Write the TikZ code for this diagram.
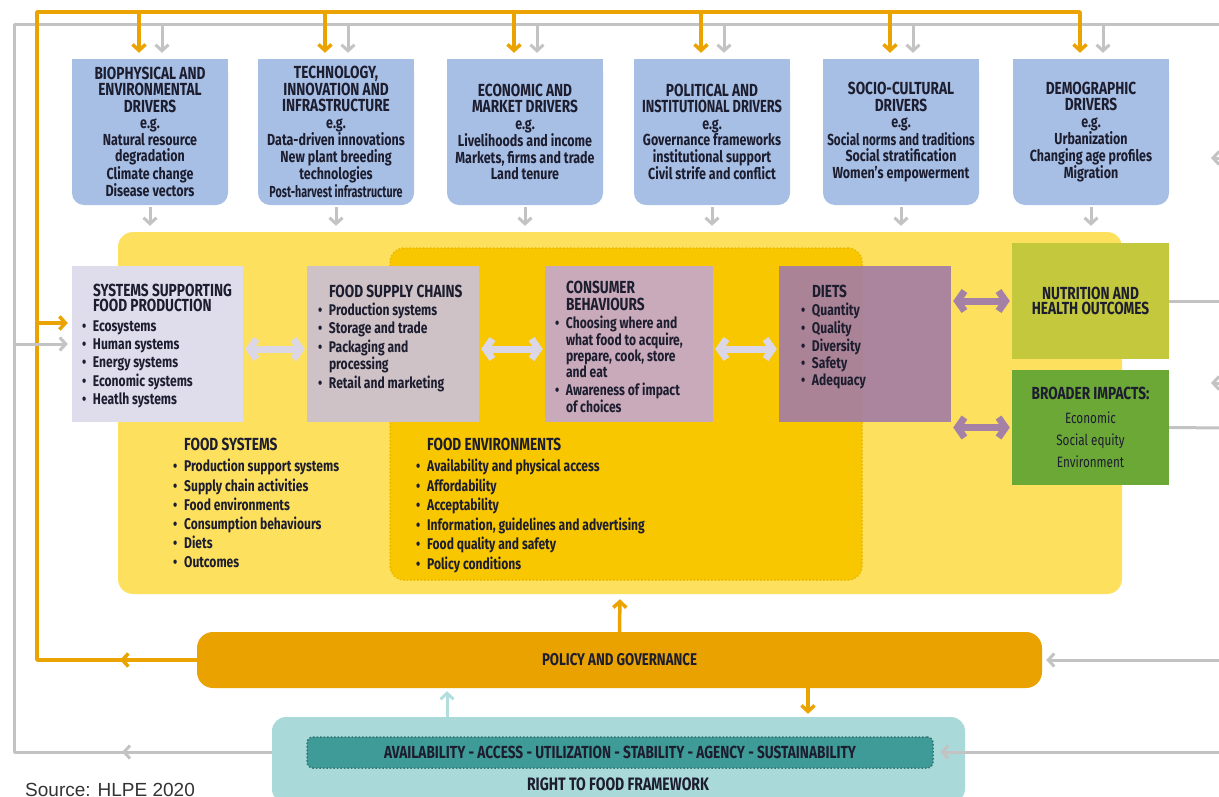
\documentclass[tikz,border=0pt]{standalone}
\usepackage{fontspec}
\setmainfont{Fira Sans}[FakeStretch=0.78]
\newfontfamily\srcfont{Liberation Sans}
\usepackage{color}
\usetikzlibrary{arrows.meta}

\definecolor{drvblue}{HTML}{A7BFE4}
\definecolor{yelbg}{HTML}{FDE15E}
\definecolor{yeldark}{HTML}{F9C700}
\definecolor{yeldot}{HTML}{EAB800}
\definecolor{ssfpcol}{HTML}{DFDDEB}
\definecolor{fsccol}{HTML}{CEC2C6}
\definecolor{cbcol}{HTML}{C9AABA}
\definecolor{dietcol}{HTML}{A47EA3}
\definecolor{nutcol}{HTML}{C4C83C}
\definecolor{impcol}{HTML}{6BA835}
\definecolor{polcol}{HTML}{E9A200}
\definecolor{orline}{HTML}{EAA300}
\definecolor{grline}{HTML}{C3C3C3}
\definecolor{tealbox}{HTML}{A9D9D9}
\definecolor{tealband}{HTML}{3F9B97}
\definecolor{tealarr}{HTML}{B4DEDE}
\definecolor{lavarr}{HTML}{DCD7E6}
\definecolor{purarr}{HTML}{A681A6}
\definecolor{txtdark}{HTML}{1D1D30}

\newcommand{\itm}{\makebox[11pt][l]{\textbullet}}
\newcommand{\ind}{\hspace*{11pt}}
\newcommand{\ttl}{\fontsize{17.5}{17}\selectfont}
\newcommand{\dt}{\fontsize{17.5}{16.5}\selectfont}

\begin{document}
\begin{tikzpicture}[x=1pt,y=-1pt,line join=round,>={Straight Barb[length=6pt,width=13pt]},
  orln/.style={draw=orline,line width=3.5pt},
  grln/.style={draw=grline,line width=3pt},
  drv/.style={fill=drvblue,rounded corners=12pt,minimum width=156pt,minimum height=146pt,inner sep=0pt,align=center,text=txtdark,font=\bfseries\fontsize{16}{16.5}\selectfont},
  fbox/.style={minimum height=156pt,inner sep=0pt},
  ftxt/.style={anchor=north west,inner sep=0pt,align=left,text=txtdark,font=\bfseries\fontsize{15.5}{16}\selectfont},
  dblarr/.style={<->,line width=7pt,shorten <=2pt,shorten >=2pt,>={Straight Barb[length=7pt,width=20pt]}}]
      \useasboundingbox (0,0) rectangle (1219,796);
      % food system areas
      \node[fill=yelbg,rounded corners=15pt,minimum width=1004pt,minimum height=362pt] (fsys) at (620,413) {};
      \node[fill=yeldark,draw=yeldot,dotted,line width=1.5pt,rounded corners=14pt,minimum width=472pt,minimum height=332pt] (fenv) at (626,414) {};
      % drivers
      \fill[drvblue] (72,59) rectangle (228,80);
      \node[drv] (bio) at (150,132) {{\dt BIOPHYSICAL AND}\\{\dt ENVIRONMENTAL}\\{\dt DRIVERS}\\e.g.\\Natural resource\\degradation\\Climate change\\Disease vectors};
      \fill[drvblue] (258,59) rectangle (414,80);
      \node[drv] (tech) at (336,132) {{\dt TECHNOLOGY,}\\{\dt INNOVATION AND}\\{\dt INFRASTRUCTURE}\\e.g.\\Data-driven innovations\\New plant breeding\\technologies\\\scalebox{0.86}[1]{Post-harvest infrastructure}};
      \fill[drvblue] (447,59) rectangle (603,80);
      \node[drv] (econ) at (525,132) {{\dt ECONOMIC AND}\\{\dt MARKET DRIVERS}\\e.g.\\Livelihoods and income\\Markets, firms and trade\\Land tenure};
      \fill[drvblue] (634,59) rectangle (790,80);
      \node[drv] (polit) at (712,132) {{\dt POLITICAL AND}\\{\dt\scalebox{0.94}[1]{INSTITUTIONAL DRIVERS}}\\e.g.\\Governance frameworks\\institutional support\\Civil strife and conflict};
      \fill[drvblue] (823,59) rectangle (979,80);
      \node[drv] (socio) at (901,132) {{\dt SOCIO-CULTURAL}\\{\dt DRIVERS}\\e.g.\\\scalebox{0.94}[1]{Social norms and traditions}\\Social stratification\\Women's empowerment};
      \fill[drvblue] (1013,59) rectangle (1169,80);
      \node[drv] (demo) at (1091,132) {{\dt DEMOGRAPHIC}\\{\dt DRIVERS}\\e.g.\\Urbanization\\Changing age profiles\\Migration};
      % boxes in the food system
      \node[fbox,fill=ssfpcol,minimum width=171pt] (ssfp) at (157.5,344) {};
      \node[fbox,fill=fsccol,minimum width=172pt] (fsc) at (393,344) {};
      \node[fbox,fill=cbcol,minimum width=168pt] (cb) at (629,344) {};
      \node[fbox,fill=dietcol,fill opacity=0.92,minimum width=172pt] (diets) at (865,344) {};
      \node[fill=nutcol,minimum width=157pt,minimum height=116pt,align=center,text=txtdark,font=\bfseries\fontsize{17.5}{15.5}\selectfont] (nutr) at (1090.5,301) {NUTRITION AND\\HEALTH OUTCOMES};
      \node[fill=impcol,minimum width=157pt,minimum height=115pt,align=center,text=txtdark,font=\fontsize{15}{22}\selectfont] (broad) at (1090.5,427.5) {{\bfseries\fontsize{17.5}{15}\selectfont BROADER IMPACTS:}\\[2pt]Economic\\Social equity\\Environment};
      \node[ftxt] (ssfptxt) at ([xshift=10pt,yshift=-18pt]ssfp.north west) {{\ttl\ind SYSTEMS SUPPORTING}\\[-0.5pt]{\ttl\ind FOOD PRODUCTION}\\[3.5pt]\itm Ecosystems\\[2pt]\itm Human systems\\[2pt]\itm Energy systems\\[2pt]\itm Economic systems\\[2pt]\itm Heatlh systems};
      \node[ftxt] (fsctxt) at ([xshift=11pt,yshift=-19pt]fsc.north west) {{\ttl\ind FOOD SUPPLY CHAINS}\\[2pt]\itm Production systems\\[2pt]\itm Storage and trade\\[2pt]\itm Packaging and\\\ind processing\\[2pt]\itm Retail and marketing};
      \node[ftxt] (cbtxt) at ([xshift=10pt,yshift=-15pt]cb.north west) {{\ttl\ind CONSUMER}\\[1pt]{\ttl\ind BEHAVIOURS}\\[2pt]\itm Choosing where and\\\ind what food to acquire,\\\ind prepare, cook, store\\\ind and eat\\[2pt]\itm Awareness of impact\\\ind of choices};
      \node[ftxt] (dietstxt) at ([xshift=22pt,yshift=-19pt]diets.north west) {{\ttl\ind DIETS}\\[2pt]\itm Quantity\\[1pt]\itm Quality\\[1pt]\itm Diversity\\[1pt]\itm Safety\\[1pt]\itm Adequacy};
      % lists
      \node[ftxt] (fsyslst) at (173,438) {{\ttl\ind FOOD SYSTEMS}\\[5pt]\itm Production support systems\\[2.5pt]\itm Supply chain activities\\[2.5pt]\itm Food environments\\[2.5pt]\itm Consumption behaviours\\[2.5pt]\itm Diets\\[2.5pt]\itm Outcomes};
      \node[ftxt] (fenvlst) at (416,438) {{\ttl\ind FOOD ENVIRONMENTS}\\[5pt]\itm Availability and physical access\\[2.5pt]\itm Affordability\\[2.5pt]\itm Acceptability\\[2.5pt]\itm Information, guidelines and advertising\\[2.5pt]\itm Food quality and safety\\[2.5pt]\itm Policy conditions};
      % policy and right to food
      \node[fill=polcol,rounded corners=16pt,minimum width=845pt,minimum height=56pt,text=txtdark,font=\bfseries\fontsize{17}{17}\selectfont] (pol) at (619.5,660) {POLICY AND GOVERNANCE};
      \node[fill=tealbox,rounded corners=14pt,minimum width=693pt,minimum height=86pt] (rtf) at (618.5,760) {};
      \node[fill=tealband,draw=tealband!75!black,dotted,line width=1.5pt,rounded corners=6pt,minimum width=626pt,minimum height=31pt,text=txtdark,font=\bfseries\fontsize{17.5}{17.5}\selectfont] (pill) at (620,752.5) {AVAILABILITY - ACCESS - UTILIZATION - STABILITY - AGENCY - SUSTAINABILITY};
      \node[text=txtdark,font=\bfseries\fontsize{18}{18}\selectfont,inner sep=0pt] (rtflbl) at (618,784.5) {RIGHT TO FOOD FRAMEWORK};
      \node[anchor=north west,inner sep=0pt,text=black!80,font=\srcfont\fontsize{19}{19}\selectfont] (src) at (25,783) {Source: HLPE 2020};
      % feedback lines
      \draw[grln] ([yshift=8pt]rtf.west) -| (14,24) -- (1225,24);
      \draw[grln,->] ([yshift=8pt]rtf.west) -- (122,752);
      \draw[orln,->,shorten >=6pt] (pol.west) -| (37,12) -| ([xshift=-11pt]demo.north);
      \draw[orln,->] (pol.west) -- (120,660);
      \draw[orln,->,shorten >=4pt] (37,323) -- ([yshift=21pt]ssfp.west);
      \draw[grln,->,shorten >=4pt] (14,344) -- (ssfp.west);
      % into the drivers
      \draw[orln,->,shorten >=6pt] (139,12) -- ([xshift=-11pt]bio.north);
      \draw[orln,->,shorten >=6pt] (325,12) -- ([xshift=-11pt]tech.north);
      \draw[orln,->,shorten >=6pt] (514,12) -- ([xshift=-11pt]econ.north);
      \draw[orln,->,shorten >=6pt] (701,12) -- ([xshift=-11pt]polit.north);
      \draw[orln,->,shorten >=6pt] (890,12) -- ([xshift=-11pt]socio.north);
      \draw[grln,->,shorten >=6pt] (162,24) -- ([xshift=12pt]bio.north);
      \draw[grln,->,shorten >=6pt] (348,24) -- ([xshift=12pt]tech.north);
      \draw[grln,->,shorten >=6pt] (537,24) -- ([xshift=12pt]econ.north);
      \draw[grln,->,shorten >=6pt] (724,24) -- ([xshift=12pt]polit.north);
      \draw[grln,->,shorten >=6pt] (913,24) -- ([xshift=12pt]socio.north);
      \draw[grln,->,shorten >=6pt] (1103,24) -- ([xshift=12pt]demo.north);
      % out of the drivers
      \draw[grln,->,shorten <=2pt,shorten >=6pt] (bio.south) -- (bio.south |- fsys.north);
      \draw[grln,->,shorten <=2pt,shorten >=6pt] (tech.south) -- (tech.south |- fsys.north);
      \draw[grln,->,shorten <=2pt,shorten >=6pt] (econ.south) -- (econ.south |- fsys.north);
      \draw[grln,->,shorten <=2pt,shorten >=6pt] (polit.south) -- (polit.south |- fsys.north);
      \draw[grln,->,shorten <=2pt,shorten >=6pt] (socio.south) -- (socio.south |- fsys.north);
      \draw[grln,->,shorten <=2pt,shorten >=6pt] (demo.south) -- (demo.south |- fsys.north);
      % between the boxes
      \draw[dblarr,draw=lavarr] ([yshift=-5pt]ssfp.east) -- ([yshift=-5pt]fsc.west);
      \draw[dblarr,draw=lavarr] ([yshift=-5pt]fsc.east) -- ([yshift=-5pt]cb.west);
      \draw[dblarr,draw=lavarr] ([yshift=-5pt]cb.east) -- ([yshift=-5pt]diets.west);
      \draw[dblarr,draw=purarr] (diets.east |- nutr.west) -- (nutr.west);
      \draw[dblarr,draw=purarr] (diets.east |- broad.west) -- (broad.west);
      % right side
      \draw[grln] (nutr.east) -- (1225,301);
      \draw[grln] (broad.east) -- (1225,428);
      \draw[grln,->] (1228,158) -- (1211,158);
      \draw[grln,->] (1228,383) -- (1211,383);
      \draw[grln,->,shorten >=4pt] (1225,660) -- (pol.east);
      \draw[grln,->] (1225,752) -- ([xshift=-25pt,yshift=8pt]rtf.east);
      % policy links
      \draw[orln,->,shorten >=5pt] (pol.north) -- (fsys.south);
      \coordinate (pdown) at (808,688);
      \draw[orln,->,shorten >=3pt] (pdown) -- (pdown |- rtf.north);
      \coordinate (tup) at (447,717);
      \draw[draw=tealarr,line width=3pt,->,shorten >=3pt] (tup) -- (tup |- pol.south);
\end{tikzpicture}
\end{document}
